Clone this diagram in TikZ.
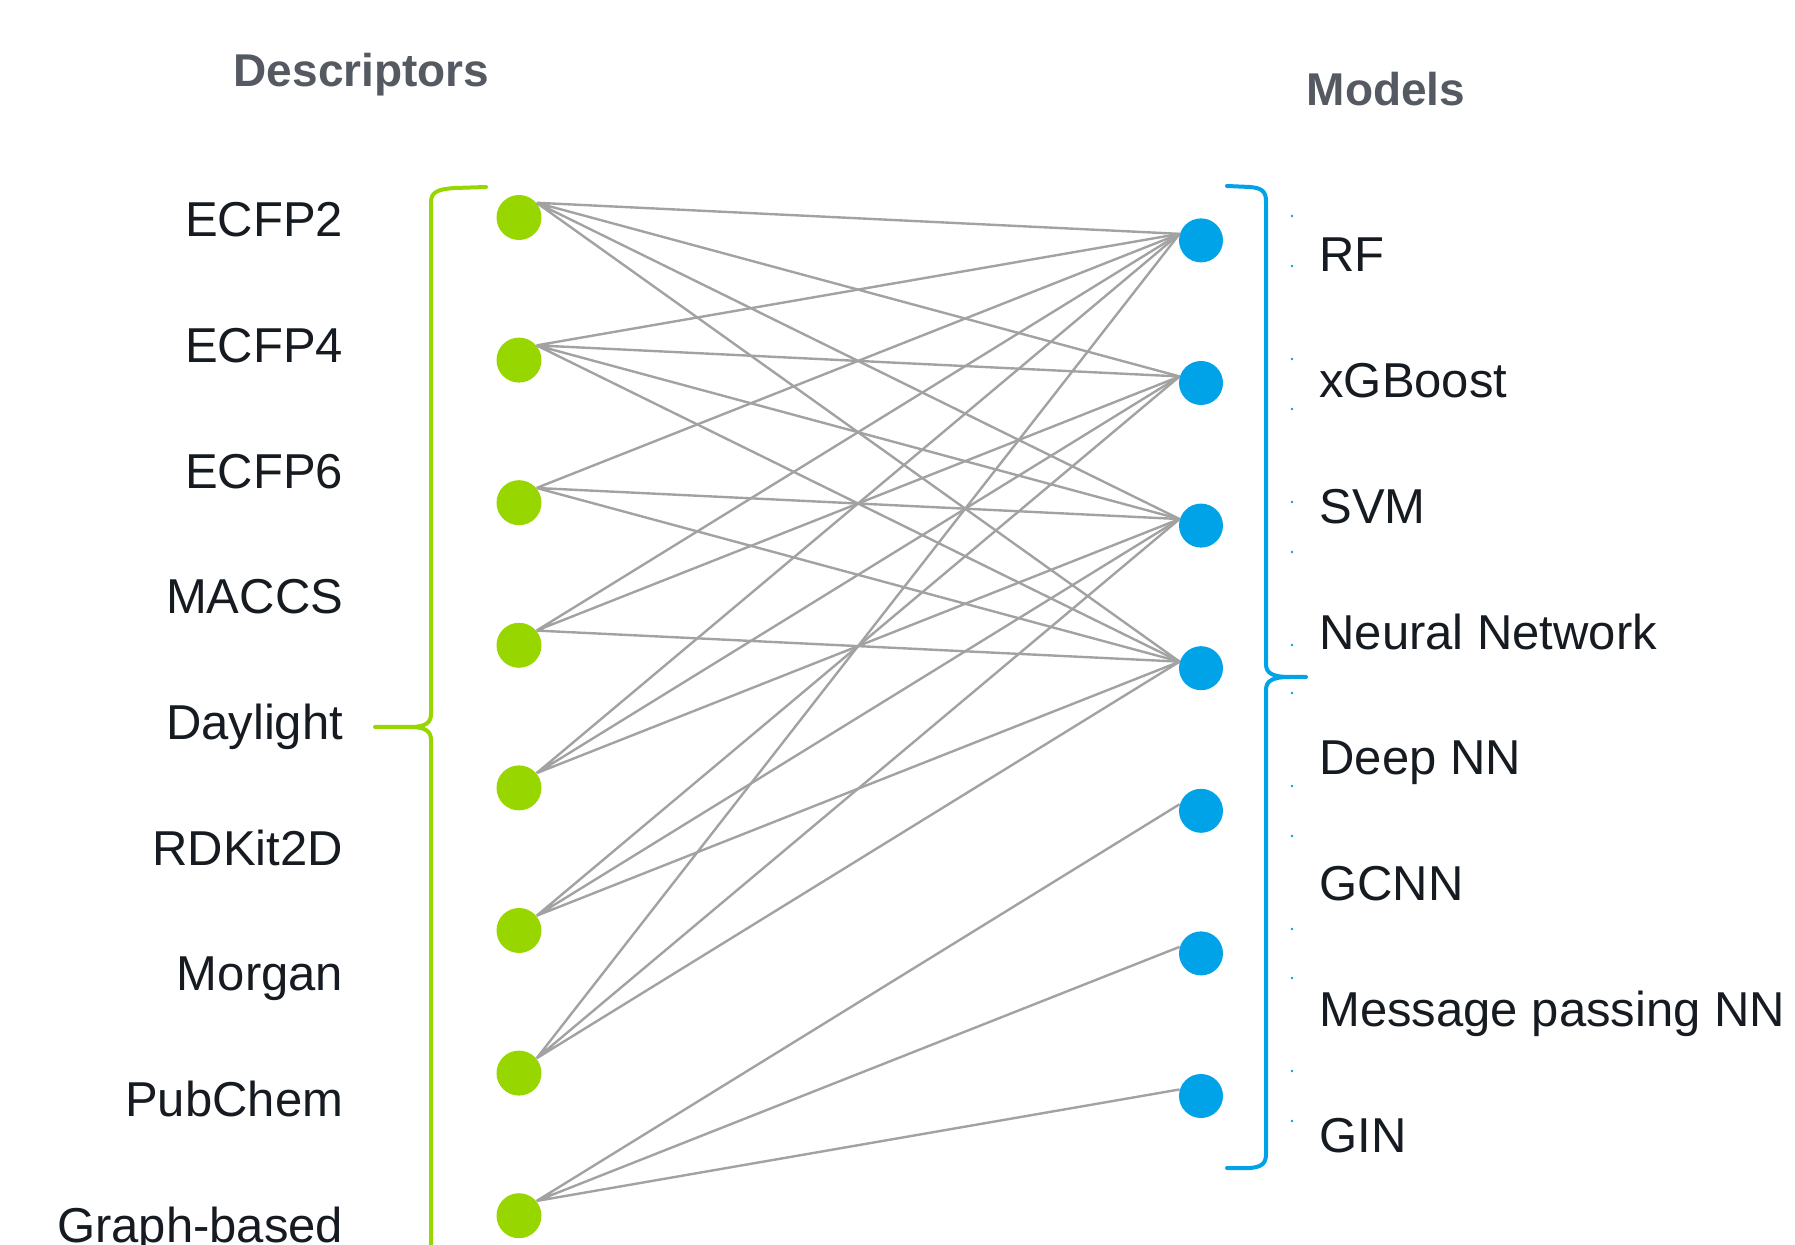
\documentclass[tikz,border=0pt]{standalone}
\usepackage{fontspec}
\setmainfont{Liberation Sans}
\usetikzlibrary{positioning}

\definecolor{descgreen}{RGB}{152,214,0}
\definecolor{modelblue}{RGB}{0,162,232}
\definecolor{linkgray}{RGB}{162,162,162}
\definecolor{headgray}{RGB}{85,90,98}
\definecolor{labelink}{RGB}{22,27,33}

\begin{document}
\begin{tikzpicture}[
  x=0.5pt, y=-0.5pt,
  node distance=71.3pt, on grid,
  descdot/.style={circle, fill=descgreen, minimum size=22.5pt, inner sep=0pt},
  modeldot/.style={circle, fill=modelblue, minimum size=22pt, inner sep=0pt},
  link/.style={draw=linkgray, line width=1.2pt},
  brace/.style={line width=2pt, line cap=round, line join=round},
  heading/.style={text=headgray, anchor=base, font=\fontsize{23}{28}\selectfont\bfseries},
  desclabel/.style={text=labelink, anchor=base east, inner sep=0pt, font=\fontsize{24.5}{29}\selectfont},
  modellabel/.style={text=labelink, anchor=base west, inner sep=0pt, font=\fontsize{24.5}{29}\selectfont}
]
  \useasboundingbox (0,0) rectangle (1795,1245);

  % column headings
  \node (desc) [heading] at (361.6,87) {Descriptors};
  \node (models) [heading] at (1386,106) {Models};

  % descriptor names
  \node (ecfp2) [desclabel] at (343.5,236.7) {ECFP2};
  \node (ecfp4) [desclabel] at (343.5,362.4) {ECFP4};
  \node (ecfp6) [desclabel] at (343.5,488.1) {ECFP6};
  \node (maccs) [desclabel] at (343.5,613.8) {MACCS};
  \node (daylight) [desclabel] at (343.5,739.5) {Daylight};
  \node (rdkit) [desclabel] at (343.5,865.2) {RDKit2D};
  \node (morgan) [desclabel] at (343.5,990.9) {Morgan};
  \node (pubchem) [desclabel] at (343.5,1116.6) {PubChem};
  \node (graphb) [desclabel] at (343.5,1242.3) {Graph-based};

  % model names
  \node (rf) [modellabel] at (1319,271.4) {RF};
  \node (xgb) [modellabel] at (1319,397.3) {xGBoost};
  \node (svm) [modellabel] at (1319,523.2) {SVM};
  \node (nn) [modellabel] at (1319,649.1) {Neural Network};
  \node (dnn) [modellabel] at (1319,775) {Deep NN};
  \node (gcnn) [modellabel] at (1319,900.9) {GCNN};
  \node (mpnn) [modellabel] at (1319,1026.8) {Message passing NN};
  \node (gin) [modellabel] at (1319,1152.7) {GIN};

  % braces
  \draw[brace, descgreen] (486,187) -- (455,188) .. controls (438,189) and (431,192) .. (431,202)
    -- (431,714) .. controls (431,723) and (425,727) .. (410,727) -- (375,727);
  \draw[brace, descgreen] (410,727) .. controls (425,727) and (431,731) .. (431,740)
    -- (431,1252) .. controls (431,1262) and (438,1266) .. (455,1266) -- (486,1267);

  \draw[brace, modelblue] (1227,186) -- (1250,187) .. controls (1261,188) and (1266,191) .. (1266,201)
    -- (1266,664) .. controls (1266,673) and (1272,677) .. (1290,677) -- (1306,677);
  \draw[brace, modelblue] (1290,677) .. controls (1272,677) and (1266,681) .. (1266,690)
    -- (1266,1154) .. controls (1266,1164) and (1261,1167) .. (1250,1168) -- (1227,1168);

  % small marks beside the model brace
  \foreach \y in {216,266,359,409,502,552,645,693,786,836,929,978,1071,1121}
    \fill[modelblue] (1292,\y) circle (0.7pt);

  % descriptor dots
  \node (d1) [descdot] at (519,217.5) {};
  \node (d2) [descdot, below=of d1] {};
  \node (d3) [descdot, below=of d2] {};
  \node (d4) [descdot, below=of d3] {};
  \node (d5) [descdot, below=of d4] {};
  \node (d6) [descdot, below=of d5] {};
  \node (d7) [descdot, below=of d6] {};
  \node (d8) [descdot, below=of d7] {};

  % model dots
  \node (m1) [modeldot] at (1201,240.4) {};
  \node (m2) [modeldot, below=of m1] {};
  \node (m3) [modeldot, below=of m2] {};
  \node (m4) [modeldot, below=of m3] {};
  \node (m5) [modeldot, below=of m4] {};
  \node (m6) [modeldot, below=of m5] {};
  \node (m7) [modeldot, below=of m6] {};

  % descriptor -> model links
  \draw[link] (d1.40) -- (m1.163) (d1.40) -- (m2.163) (d1.40) -- (m3.163) (d1.40) -- (m4.163);
  \draw[link] (d2.40) -- (m1.163) (d2.40) -- (m2.163) (d2.40) -- (m3.163) (d2.40) -- (m4.163);
  \draw[link] (d3.40) -- (m1.163) (d3.40) -- (m3.163) (d3.40) -- (m4.163);
  \draw[link] (d4.40) -- (m1.163) (d4.40) -- (m2.163) (d4.40) -- (m4.163);
  \draw[link] (d5.40) -- (m1.163) (d5.40) -- (m2.163) (d5.40) -- (m3.163);
  \draw[link] (d6.40) -- (m2.163) (d6.40) -- (m3.163) (d6.40) -- (m4.163);
  \draw[link] (d7.40) -- (m1.163) (d7.40) -- (m3.163) (d7.40) -- (m4.163);
  \draw[link] (d8.40) -- (m5.163) (d8.40) -- (m6.163) (d8.40) -- (m7.163);
\end{tikzpicture}
\end{document}
